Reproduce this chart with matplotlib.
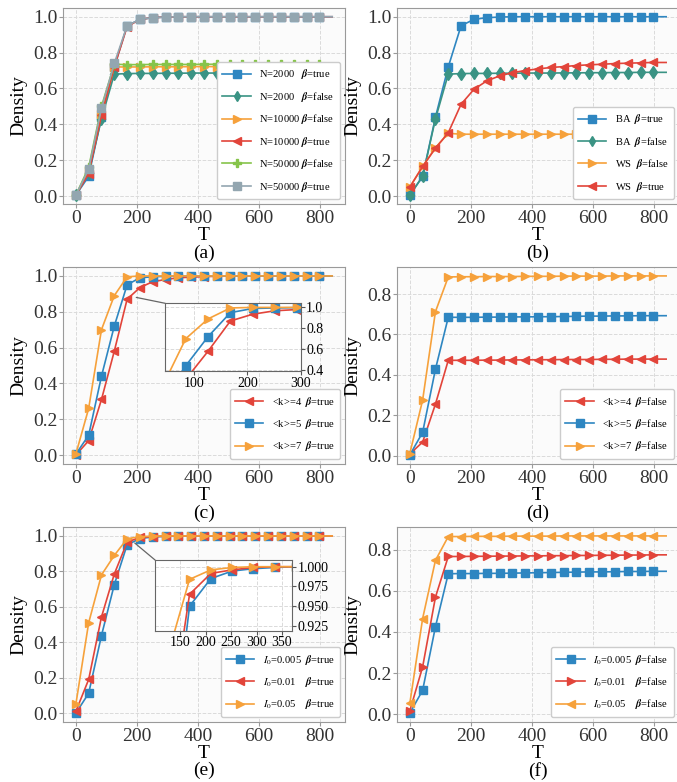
import numpy as np
import matplotlib
matplotlib.use('Agg')
import matplotlib.pyplot as plt
from matplotlib.patches import ConnectionPatch
from matplotlib.ticker import MultipleLocator, FormatStrFormatter

plt.rcParams['font.family'] = ['Liberation Serif', 'DejaVu Serif']
plt.rcParams['mathtext.fontset'] = 'stix'

# time steps (markers every 42 steps, last point only carries the line)
T = [0, 42, 84, 126, 168, 210, 252, 294, 336, 378, 420,
     462, 504, 546, 588, 630, 672, 714, 756, 798, 840]

# (a) network size
a_n2000_true = [0.005, 0.11, 0.44, 0.72, 0.95, 0.985, 0.995, 0.998, 1.0, 1.0, 1.0,
                1.0, 1.0, 1.0, 1.0, 1.0, 1.0, 1.0, 1.0, 1.0, 1.0]
a_n2000_false = [0.005, 0.13, 0.43, 0.68, 0.683, 0.684, 0.684, 0.685, 0.685, 0.686, 0.686,
                 0.686, 0.687, 0.687, 0.688, 0.688, 0.689, 0.689, 0.69, 0.69, 0.69]
a_n10000_false = [0.005, 0.14, 0.46, 0.72, 0.72, 0.72, 0.721, 0.721, 0.721, 0.722, 0.722,
                  0.722, 0.722, 0.723, 0.723, 0.723, 0.723, 0.724, 0.724, 0.724, 0.724]
a_n10000_true = [0.005, 0.125, 0.45, 0.72, 0.945, 0.985, 0.995, 0.998, 1.0, 1.0, 1.0,
                 1.0, 1.0, 1.0, 1.0, 1.0, 1.0, 1.0, 1.0, 1.0, 1.0]
a_n50000_false = [0.005, 0.16, 0.50, 0.735, 0.733, 0.733, 0.734, 0.734, 0.734, 0.734, 0.735,
                  0.735, 0.735, 0.735, 0.735, 0.736, 0.736, 0.736, 0.736, 0.737, 0.737]
a_n50000_true = [0.005, 0.15, 0.49, 0.74, 0.95, 0.985, 0.995, 0.998, 1.0, 1.0, 1.0,
                 1.0, 1.0, 1.0, 1.0, 1.0, 1.0, 1.0, 1.0, 1.0, 1.0]

# (b) network type
b_ba_true = [0.005, 0.11, 0.44, 0.72, 0.95, 0.985, 0.995, 0.998, 1.0, 1.0, 1.0,
             1.0, 1.0, 1.0, 1.0, 1.0, 1.0, 1.0, 1.0, 1.0, 1.0]
b_ba_false = [0.005, 0.11, 0.43, 0.68, 0.683, 0.684, 0.684, 0.685, 0.685, 0.686, 0.686,
              0.686, 0.687, 0.687, 0.688, 0.688, 0.689, 0.689, 0.69, 0.69, 0.69]
b_ws_false = [0.05, 0.165, 0.27, 0.35, 0.345, 0.345, 0.345, 0.345, 0.345, 0.345, 0.345,
              0.345, 0.345, 0.345, 0.345, 0.345, 0.345, 0.345, 0.345, 0.345, 0.345]
b_ws_true = [0.05, 0.165, 0.267, 0.353, 0.512, 0.595, 0.642, 0.67, 0.688, 0.70, 0.709,
             0.717, 0.722, 0.728, 0.732, 0.735, 0.739, 0.741, 0.743, 0.745, 0.745]

# (c) average degree, beta = true
c_k4 = [0.0, 0.08, 0.31, 0.58, 0.87, 0.935, 0.968, 0.98, 0.99, 0.993, 0.996,
        0.998, 0.999, 1.0, 1.0, 1.0, 1.0, 1.0, 1.0, 1.0, 1.0]
c_k5 = [0.005, 0.11, 0.44, 0.72, 0.95, 0.99, 0.995, 0.998, 1.0, 1.0, 1.0,
        1.0, 1.0, 1.0, 1.0, 1.0, 1.0, 1.0, 1.0, 1.0, 1.0]
c_k7 = [0.005, 0.26, 0.70, 0.89, 0.995, 1.0, 1.0, 1.0, 1.0, 1.0, 1.0,
        1.0, 1.0, 1.0, 1.0, 1.0, 1.0, 1.0, 1.0, 1.0, 1.0]

# (d) average degree, beta = false
d_k4 = [0.008, 0.067, 0.255, 0.472, 0.472, 0.472, 0.473, 0.473, 0.474, 0.474, 0.475,
        0.475, 0.476, 0.476, 0.476, 0.477, 0.477, 0.478, 0.478, 0.478, 0.478]
d_k5 = [0.003, 0.115, 0.428, 0.685, 0.685, 0.685, 0.686, 0.686, 0.687, 0.687, 0.688,
        0.688, 0.689, 0.69, 0.691, 0.691, 0.692, 0.692, 0.693, 0.693, 0.693]
d_k7 = [0.01, 0.275, 0.713, 0.885, 0.886, 0.886, 0.887, 0.887, 0.887, 0.888, 0.888,
        0.888, 0.889, 0.889, 0.889, 0.889, 0.89, 0.89, 0.89, 0.89, 0.89]

# (e) initial infected ratio, beta = true
e_i0005 = [0.0, 0.112, 0.438, 0.725, 0.95, 0.985, 0.9945, 0.9975, 0.999, 1.0, 1.0,
           1.0, 1.0, 1.0, 1.0, 1.0, 1.0, 1.0, 1.0, 1.0, 1.0]
e_i001 = [0.01, 0.19, 0.543, 0.785, 0.965, 0.9915, 0.996, 0.999, 1.0, 1.0, 1.0,
          1.0, 1.0, 1.0, 1.0, 1.0, 1.0, 1.0, 1.0, 1.0, 1.0]
e_i005 = [0.05, 0.51, 0.78, 0.89, 0.984, 0.996, 0.999, 1.0, 1.0, 1.0, 1.0,
          1.0, 1.0, 1.0, 1.0, 1.0, 1.0, 1.0, 1.0, 1.0, 1.0]

# (f) initial infected ratio, beta = false
f_i0005 = [0.005, 0.116, 0.425, 0.683, 0.684, 0.684, 0.685, 0.685, 0.686, 0.687, 0.688,
           0.689, 0.69, 0.691, 0.692, 0.692, 0.693, 0.694, 0.694, 0.695, 0.695]
f_i001 = [0.016, 0.23, 0.569, 0.767, 0.767, 0.768, 0.768, 0.769, 0.769, 0.77, 0.77,
          0.771, 0.771, 0.772, 0.772, 0.773, 0.773, 0.774, 0.774, 0.775, 0.775]
f_i005 = [0.052, 0.465, 0.748, 0.864, 0.864, 0.865, 0.865, 0.865, 0.866, 0.866, 0.866,
          0.866, 0.867, 0.867, 0.867, 0.867, 0.867, 0.867, 0.867, 0.867, 0.867]

BLUE = '#2e86c1'
TEAL = '#3a9384'
ORANGE = '#f6a13b'
RED = '#e2443a'
GREEN = '#86c44a'
GRAY = '#93a6b0'

B = r'$\boldsymbol{\beta}$'
MK = slice(0, 20)
FS = 14


def style(ax, letter):
    ax.set_facecolor('#fbfbfb')
    ax.grid(True, linestyle='--', color='#dadada', linewidth=0.7)
    ax.set_axisbelow(True)
    for s in ax.spines.values():
        s.set_color('#9a9a9a')
    ax.tick_params(labelsize=FS, colors='#333333', length=3, color='#9a9a9a', pad=1)
    ax.set_xticks([0, 200, 400, 600, 800])
    ax.yaxis.set_major_locator(MultipleLocator(0.2))
    ax.yaxis.set_major_formatter(FormatStrFormatter('%.1f'))
    ax.set_ylabel('Density', fontsize=FS)
    ax.yaxis.set_label_coords(-0.125, 0.5)
    # x label and panel letter as plain texts under the tick labels
    ax.text(0.5, -0.16, 'T', transform=ax.transAxes, ha='center', va='center', fontsize=FS)
    ax.text(0.5, -0.25, letter, transform=ax.transAxes, ha='center', va='center', fontsize=FS)


def draw(ax, y, color, marker, label, ms=6):
    ax.plot(T, y, color=color, marker=marker, markersize=ms, markevery=MK, lw=1.2, label=label)


def leg(ax):
    ax.legend(loc='lower right', fontsize=7.6, labelspacing=0.8, handlelength=2.7,
              borderpad=0.5, markerscale=0.85, framealpha=1, edgecolor='#cccccc',
              facecolor='white')


def inset_style(ins):
    ins.yaxis.tick_right()
    ins.tick_params(labelsize=10, length=3, color='#555555', pad=1)
    ins.grid(True, linestyle='--', color='#dadada', linewidth=0.7)
    ins.set_facecolor('white')
    for s in ins.spines.values():
        s.set_color('#666666')


fig = plt.figure(figsize=(6.77, 7.82), dpi=100)
W = 0.4165
rows = [(0.739, 0.251), (0.4067, 0.2519), (0.0767, 0.2493)]
cols = [0.0931, 0.5864]
axs = [[fig.add_axes([c, r[0], W, r[1]]) for c in cols] for r in rows]

# (a)
ax = axs[0][0]
draw(ax, a_n2000_true, BLUE, 's', 'N=2000   ' + B + '=true')
draw(ax, a_n2000_false, TEAL, 'd', 'N=2000   ' + B + '=false')
draw(ax, a_n10000_false, ORANGE, '>', 'N=10000 ' + B + '=false')
draw(ax, a_n10000_true, RED, '<', 'N=10000 ' + B + '=true')
draw(ax, a_n50000_false, GREEN, 'P', 'N=50000 ' + B + '=false')
draw(ax, a_n50000_true, GRAY, 's', 'N=50000 ' + B + '=true')
style(ax, '(a)')
leg(ax)

# (b)
ax = axs[0][1]
draw(ax, b_ba_true, BLUE, 's', 'BA  ' + B + '=true')
draw(ax, b_ba_false, TEAL, 'd', 'BA  ' + B + '=false')
draw(ax, b_ws_false, ORANGE, '>', 'WS  ' + B + '=false')
draw(ax, b_ws_true, RED, '<', 'WS  ' + B + '=true')
style(ax, '(b)')
leg(ax)

# (c)
ax = axs[1][0]
draw(ax, c_k4, RED, '<', '<k>=4  ' + B + '=true')
draw(ax, c_k5, BLUE, 's', '<k>=5  ' + B + '=true')
draw(ax, c_k7, ORANGE, '>', '<k>=7  ' + B + '=true')
style(ax, '(c)')
leg(ax)
ins = fig.add_axes([0.2437, 0.5256, 0.2004, 0.0866])
draw(ins, c_k4, RED, '<', None)
draw(ins, c_k5, BLUE, 's', None)
draw(ins, c_k7, ORANGE, '>', None)
ins.set_xlim(45, 300)
ins.set_ylim(0.39, 1.04)
ins.set_xticks([100, 200, 300])
ins.set_yticks([0.4, 0.6, 0.8, 1.0])
inset_style(ins)
con = ConnectionPatch(xyA=(198, 0.88), coordsA=ax.transData, xyB=(0, 1), coordsB=ins.transAxes,
                      color='#666666', lw=0.9)
fig.add_artist(con)

# (d)
ax = axs[1][1]
draw(ax, d_k4, RED, '<', '<k>=4  ' + B + '=false')
draw(ax, d_k5, BLUE, 's', '<k>=5  ' + B + '=false')
draw(ax, d_k7, ORANGE, '>', '<k>=7  ' + B + '=false')
style(ax, '(d)')
leg(ax)

# (e)
ax = axs[2][0]
draw(ax, e_i0005, BLUE, 's', r'$I_0$=0.005  ' + B + '=true')
draw(ax, e_i001, RED, '<', r'$I_0$=0.01    ' + B + '=true')
draw(ax, e_i005, ORANGE, '>', r'$I_0$=0.05    ' + B + '=true')
style(ax, '(e)')
leg(ax)
ins = fig.add_axes([0.2290, 0.1935, 0.2024, 0.0904])
draw(ins, e_i0005, BLUE, 's', None)
draw(ins, e_i001, RED, '<', None)
draw(ins, e_i005, ORANGE, '>', None)
ins.set_xlim(100, 370)
ins.set_ylim(0.919, 1.0085)
ins.set_xticks([150, 200, 250, 300, 350])
ins.set_yticks([0.925, 0.950, 0.975, 1.000])
ins.yaxis.set_major_formatter(FormatStrFormatter('%.3f'))
inset_style(ins)
con = ConnectionPatch(xyA=(193, 0.96), coordsA=ax.transData, xyB=(0, 1), coordsB=ins.transAxes,
                      color='#666666', lw=0.9)
fig.add_artist(con)

# (f)
ax = axs[2][1]
draw(ax, f_i0005, BLUE, 's', r'$I_0$=0.005  ' + B + '=false')
draw(ax, f_i001, RED, '>', r'$I_0$=0.01    ' + B + '=false')
draw(ax, f_i005, ORANGE, '<', r'$I_0$=0.05    ' + B + '=false')
style(ax, '(f)')
leg(ax)

fig.savefig('out.png', dpi=100)
